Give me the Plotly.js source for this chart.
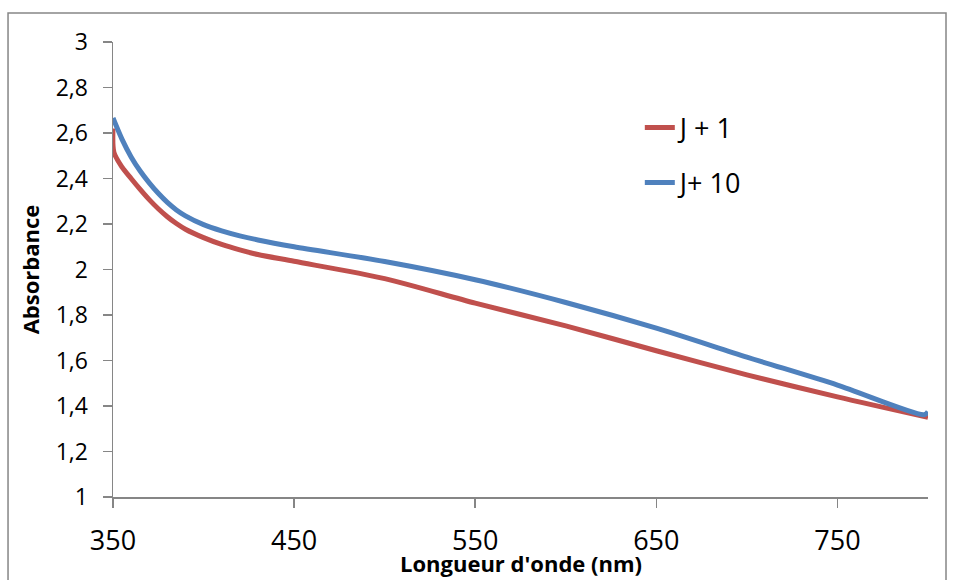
<!DOCTYPE html>
<html>
<head>
<meta charset="utf-8">
<script src="https://cdn.plot.ly/plotly-3.0.1.min.js"></script>
<style>
  html, body { margin: 0; padding: 0; background: #ffffff; }
  #chart { width: 955px; height: 580px; }
</style>
</head>
<body>
<div id="chart"></div>
<script>
// Wavelengths (nm) and absorbance values
const redNm   = [350, 350.5, 355, 360, 365, 370, 375, 380, 385, 390, 400, 410, 420, 430, 450, 500, 550, 600, 650, 700, 750, 800];
const redAbs  = [2.62, 2.515, 2.45, 2.40, 2.352, 2.307, 2.267, 2.232, 2.202, 2.177, 2.14, 2.11, 2.086, 2.066, 2.036, 1.96, 1.852, 1.752, 1.643, 1.537, 1.44, 1.35];

const blueNm  = [350, 355, 360, 365, 370, 375, 380, 385, 390, 400, 410, 420, 430, 450, 500, 550, 600, 650, 700, 750, 798, 800];
const blueAbs = [2.666, 2.572, 2.495, 2.433, 2.381, 2.335, 2.295, 2.262, 2.236, 2.197, 2.17, 2.148, 2.13, 2.1, 2.035, 1.955, 1.855, 1.742, 1.615, 1.492, 1.362, 1.375];

const seriesNames = ["J + 1", "J+ 10"];
const xTicks = [350, 450, 550, 650, 750];
const yTicks = [1, 1.2, 1.4, 1.6, 1.8, 2, 2.2, 2.4, 2.6, 2.8, 3];
const xTitle = "Longueur d'onde (nm)";
const yTitle = "Absorbance";

const axisGray = "#868686";
const font = "'Open Sans', 'Liberation Sans', sans-serif";

const traces = [
  {
    x: redNm, y: redAbs, name: seriesNames[0], type: "scatter", mode: "lines",
    line: { color: "#C0504D", width: 5, shape: "spline", smoothing: 0.8 },
    legendgroup: "a"
  },
  {
    x: blueNm, y: blueAbs, name: seriesNames[1], type: "scatter", mode: "lines",
    line: { color: "#4F81BD", width: 5, shape: "spline", smoothing: 0.8 },
    legendgroup: "b"
  }
];

const layout = {
  width: 955, height: 580,
  margin: { l: 113, r: 27, t: 42, b: 83 },
  paper_bgcolor: "#ffffff", plot_bgcolor: "#ffffff",
  separators: ", ",
  font: { family: font, color: "#000000" },
  showlegend: true,
  legend: {
    x: 0.6464, y: 0.865, xanchor: "left", yanchor: "top",
    font: { size: 27, family: font, color: "#000" },
    traceorder: "grouped", tracegroupgap: 17,
    itemwidth: 30, bgcolor: "rgba(0,0,0,0)"
  },
  xaxis: {
    range: [350, 800], tickvals: xTicks, ticktext: xTicks.map(String),
    showgrid: false, zeroline: false,
    showline: true, linecolor: axisGray, linewidth: 1.5,
    ticks: "outside", ticklen: 9, tickcolor: axisGray, tickwidth: 1.5,
    ticklabelstandoff: 10,
    tickfont: { size: 27, family: font, color: "#000" }
  },
  yaxis: {
    range: [1, 3], tickvals: yTicks,
    showgrid: false, zeroline: false,
    showline: true, linecolor: axisGray, linewidth: 1.5,
    ticks: "outside", ticklen: 9, tickcolor: axisGray, tickwidth: 1.5,
    ticklabelstandoff: 10,
    tickfont: { size: 23, family: font, color: "#000" },
    title: { text: "<b>" + yTitle + "</b>", font: { size: 22, family: font, color: "#000" }, standoff: 10 }
  },
  annotations: [
    {
      text: "<b>" + xTitle + "</b>", xref: "paper", yref: "paper",
      x: 0.5, y: -0.1824, xanchor: "center", yanchor: "bottom", showarrow: false,
      font: { size: 22, family: font, color: "#000" }
    }
  ],
  shapes: [
    {
      type: "rect", xref: "paper", yref: "paper",
      x0: -0.1288, x1: 1.0221, y0: -0.25, y1: 1.0637,
      line: { color: axisGray, width: 1.5 }, fillcolor: "rgba(0,0,0,0)", layer: "below"
    }
  ]
};

Plotly.newPlot("chart", traces, layout, { staticPlot: true, displayModeBar: false });
</script>
</body>
</html>
